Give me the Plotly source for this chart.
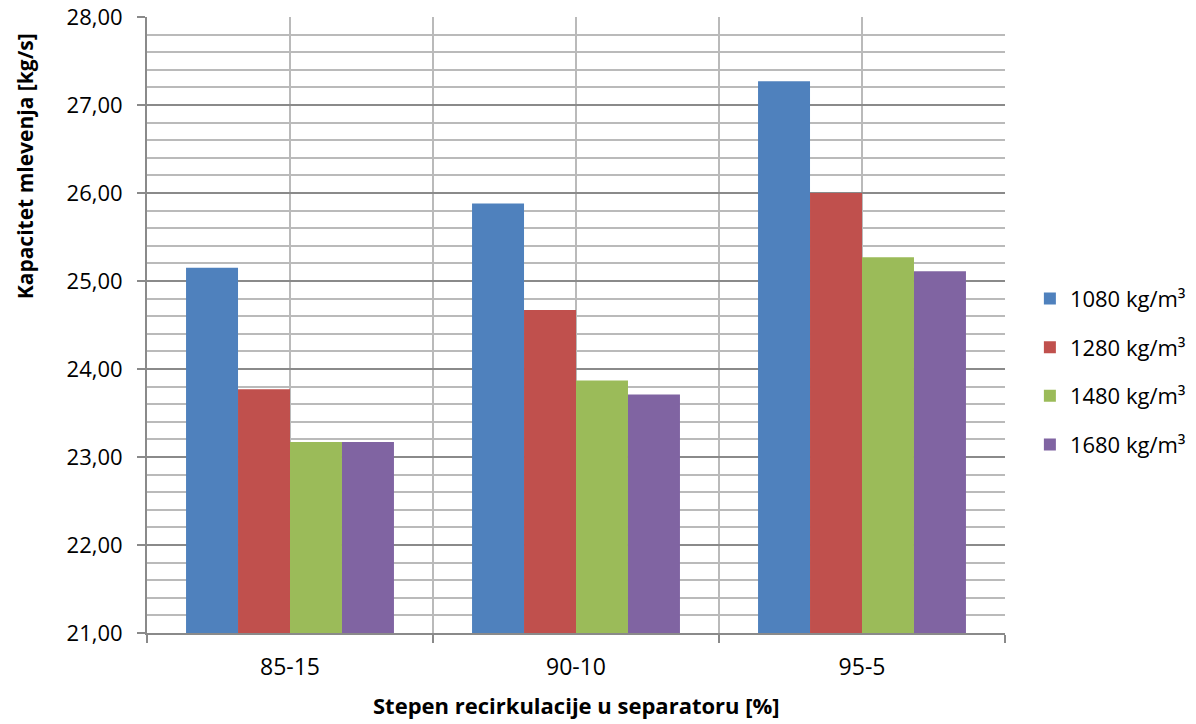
import plotly.graph_objects as go

# Separator recirculation ratio (categories) and milling capacity per material density
categories = ["85-15", "90-10", "95-5"]
series_names = ["1080 kg/m³", "1280 kg/m³", "1480 kg/m³", "1680 kg/m³"]
cap_1080 = [25.15, 25.88, 27.27]
cap_1280 = [23.77, 24.67, 26.00]
cap_1480 = [23.17, 23.87, 25.27]
cap_1680 = [23.17, 23.71, 25.11]
y_ticks = [21, 22, 23, 24, 25, 26, 27, 28]

series_values = [cap_1080, cap_1280, cap_1480, cap_1680]
colors = ["#4F81BD", "#C0504D", "#9BBB59", "#8064A2"]

FONT = "Open Sans"
positions = list(range(len(categories)))
boundaries = [p - 0.5 for p in positions] + [positions[-1] + 0.5]

fig = go.Figure()
for name, vals, col in zip(series_names, series_values, colors):
    fig.add_trace(go.Bar(
        x=positions, y=vals, name=name, legendgroup=name,
        marker=dict(color=col, line=dict(width=0)),
    ))

minor_grid = "#BABABA"
major_grid = "#8A8A8A"

fig.update_layout(
    width=1196, height=724,
    margin=dict(l=147, r=191, t=17, b=91, autoexpand=False),
    paper_bgcolor="white", plot_bgcolor="white",
    barmode="group", bargap=0.273, bargroupgap=0,
    separators=", ",
    font=dict(family=FONT, size=22, color="#000000"),
    showlegend=True,
    legend=dict(
        x=1.029, xanchor="left", y=0.424, yanchor="middle",
        font=dict(family=FONT, size=22, color="#000000"),
        tracegroupgap=17, bgcolor="rgba(0,0,0,0)",
    ),
    xaxis=dict(
        range=[-0.5, len(categories) - 0.5],
        tickmode="array", tickvals=positions, ticktext=categories,
        ticks="", ticklabelstandoff=12, automargin=False,
        tickfont=dict(family=FONT, size=23, color="#000000"),
        showgrid=True, gridcolor=minor_grid, gridwidth=2,
        showline=True, linecolor=major_grid, linewidth=2,
        zeroline=False, fixedrange=True,
        minor=dict(
            tickmode="array", tickvals=boundaries,
            ticks="outside", ticklen=8, tickwidth=2, tickcolor=major_grid,
            showgrid=True, gridcolor=minor_grid, gridwidth=2,
        ),
    ),
    yaxis=dict(
        range=[y_ticks[0], y_ticks[-1]],
        tickmode="array", tickvals=y_ticks, tickformat=".2f",
        ticks="outside", ticklen=8, tickwidth=2, tickcolor=major_grid,
        ticklabelstandoff=10, automargin=False,
        tickfont=dict(family=FONT, size=22, color="#000000"),
        showgrid=True, gridcolor=major_grid, gridwidth=2,
        showline=True, linecolor=major_grid, linewidth=2,
        zeroline=False, fixedrange=True,
        minor=dict(
            dtick=0.2, tick0=21, ticks="",
            showgrid=True, gridcolor=minor_grid, gridwidth=2,
        ),
    ),
    annotations=[
        dict(
            text="<b>Kapacitet mlevenja [kg/s]</b>", textangle=-90,
            xref="paper", yref="paper", x=-0.142, y=0.758,
            xanchor="center", yanchor="middle", showarrow=False,
            font=dict(family=FONT, size=21, color="#000000"),
        ),
        dict(
            text="<b>Stepen recirkulacije u separatoru [%]</b>",
            xref="paper", yref="paper", x=0.5, y=-0.117,
            xanchor="center", yanchor="middle", showarrow=False,
            font=dict(family=FONT, size=22, color="#000000"),
        ),
    ],
)

fig.write_html("out.html")
